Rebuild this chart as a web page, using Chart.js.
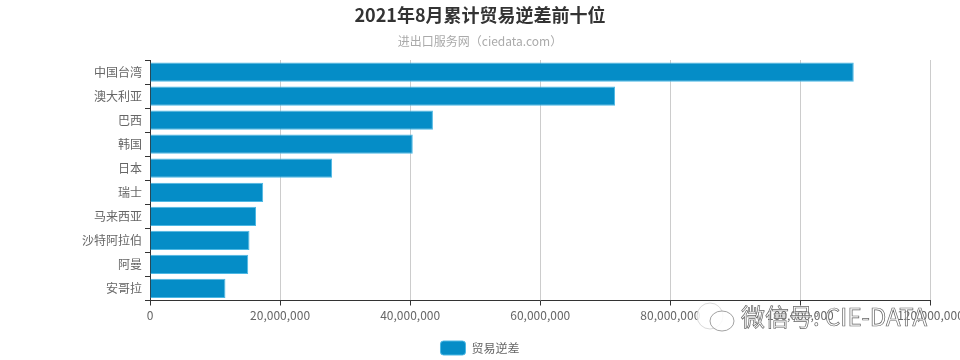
<!DOCTYPE html>
<html lang="zh">
<head>
  <meta charset="utf-8">
  <script src="https://cdn.jsdelivr.net/npm/chart.js@4"></script>
  <style>
    html, body { margin: 0; padding: 0; background: #fff; }
    #wrap { width: 960px; height: 360px; position: relative; }
  </style>
</head>
<body>
  <div id="wrap"><canvas id="chart"></canvas></div>
  <script>
    const categories = ['中国台湾', '澳大利亚', '巴西', '韩国', '日本', '瑞士', '马来西亚', '沙特阿拉伯', '阿曼', '安哥拉'];
    const deficit = [108200000, 71500000, 43500000, 40400000, 28000000, 17400000, 16300000, 15300000, 15100000, 11600000];
    const seriesName = '贸易逆差';
    const titleText = '2021年8月累计贸易逆差前十位';
    const subtitleText = '进出口服务网（ciedata.com）';
    const watermarkText = '微信号: CIE-DATA';

    const fontFamily = '"Noto Sans CJK SC", "Open Sans", sans-serif';

    // WeChat style watermark drawn over everything
    const watermark = {
      id: 'watermark',
      afterDraw(chart) {
        const c = chart.ctx;
        c.save();
        c.lineWidth = 0.8;
        c.fillStyle = 'rgba(255,255,255,0.85)';
        c.beginPath();
        c.arc(710, 316, 13, 0, Math.PI * 2);
        c.fill();
        c.strokeStyle = '#cfcfcf';
        c.stroke();
        c.beginPath();
        c.ellipse(722, 321, 12, 10, 0, 0, Math.PI * 2);
        c.fill();
        c.strokeStyle = '#8a8a8a';
        c.stroke();
        c.font = '24px ' + fontFamily;
        c.textBaseline = 'middle';
        c.fillStyle = 'rgba(255,255,255,0.6)';
        c.fillText(watermarkText, 741, 317);
        c.lineWidth = 0.7;
        c.strokeStyle = '#666';
        c.strokeText(watermarkText, 741, 317);
        c.restore();
      }
    };

    new Chart(document.getElementById('chart'), {
      type: 'bar',
      data: {
        labels: categories,
        datasets: [{
          label: seriesName,
          data: deficit,
          backgroundColor: '#058DC7',
          borderColor: '#4DB8E4',
          borderWidth: 1,
          categoryPercentage: 0.8,
          barPercentage: 1
        }]
      },
      options: {
        indexAxis: 'y',
        responsive: true,
        maintainAspectRatio: false,
        animation: false,
        layout: { padding: { bottom: -5 } },
        scales: {
          x: {
            min: 0,
            max: 120000000,
            afterFit(s) { s.height = 39.5; s.paddingRight = 29.5; },
            ticks: {
              stepSize: 20000000,
              maxRotation: 0,
              padding: 3,
              color: '#666',
              font: { family: fontFamily, size: 12 },
              callback: v => v.toLocaleString('en-US')
            },
            grid: { color: '#ccc', tickColor: '#333', tickLength: 5, lineWidth: 1 },
            border: { color: '#333', width: 1 }
          },
          y: {
            afterFit(s) { s.width = 150; },
            ticks: {
              padding: 3,
              color: '#666',
              font: { family: fontFamily, size: 12 }
            },
            grid: { drawOnChartArea: false, tickColor: '#333', tickLength: 5, offset: true },
            border: { color: '#333', width: 1 }
          }
        },
        plugins: {
          title: {
            display: true,
            text: titleText,
            color: '#333',
            font: { family: fontFamily, size: 18, weight: 'bold' },
            padding: { top: 4, bottom: 4 }
          },
          subtitle: {
            display: true,
            text: subtitleText,
            color: '#aaa',
            font: { family: fontFamily, size: 12, weight: 'normal' },
            padding: { top: 5, bottom: 11 }
          },
          legend: {
            position: 'bottom',
            labels: {
              boxWidth: 25,
              boxHeight: 14,
              padding: 1,
              color: '#666',
              useBorderRadius: true,
              borderRadius: 3,
              font: { family: fontFamily, size: 12 }
            }
          },
          tooltip: { enabled: false }
        }
      },
      plugins: [watermark]
    });
  </script>
</body>
</html>
